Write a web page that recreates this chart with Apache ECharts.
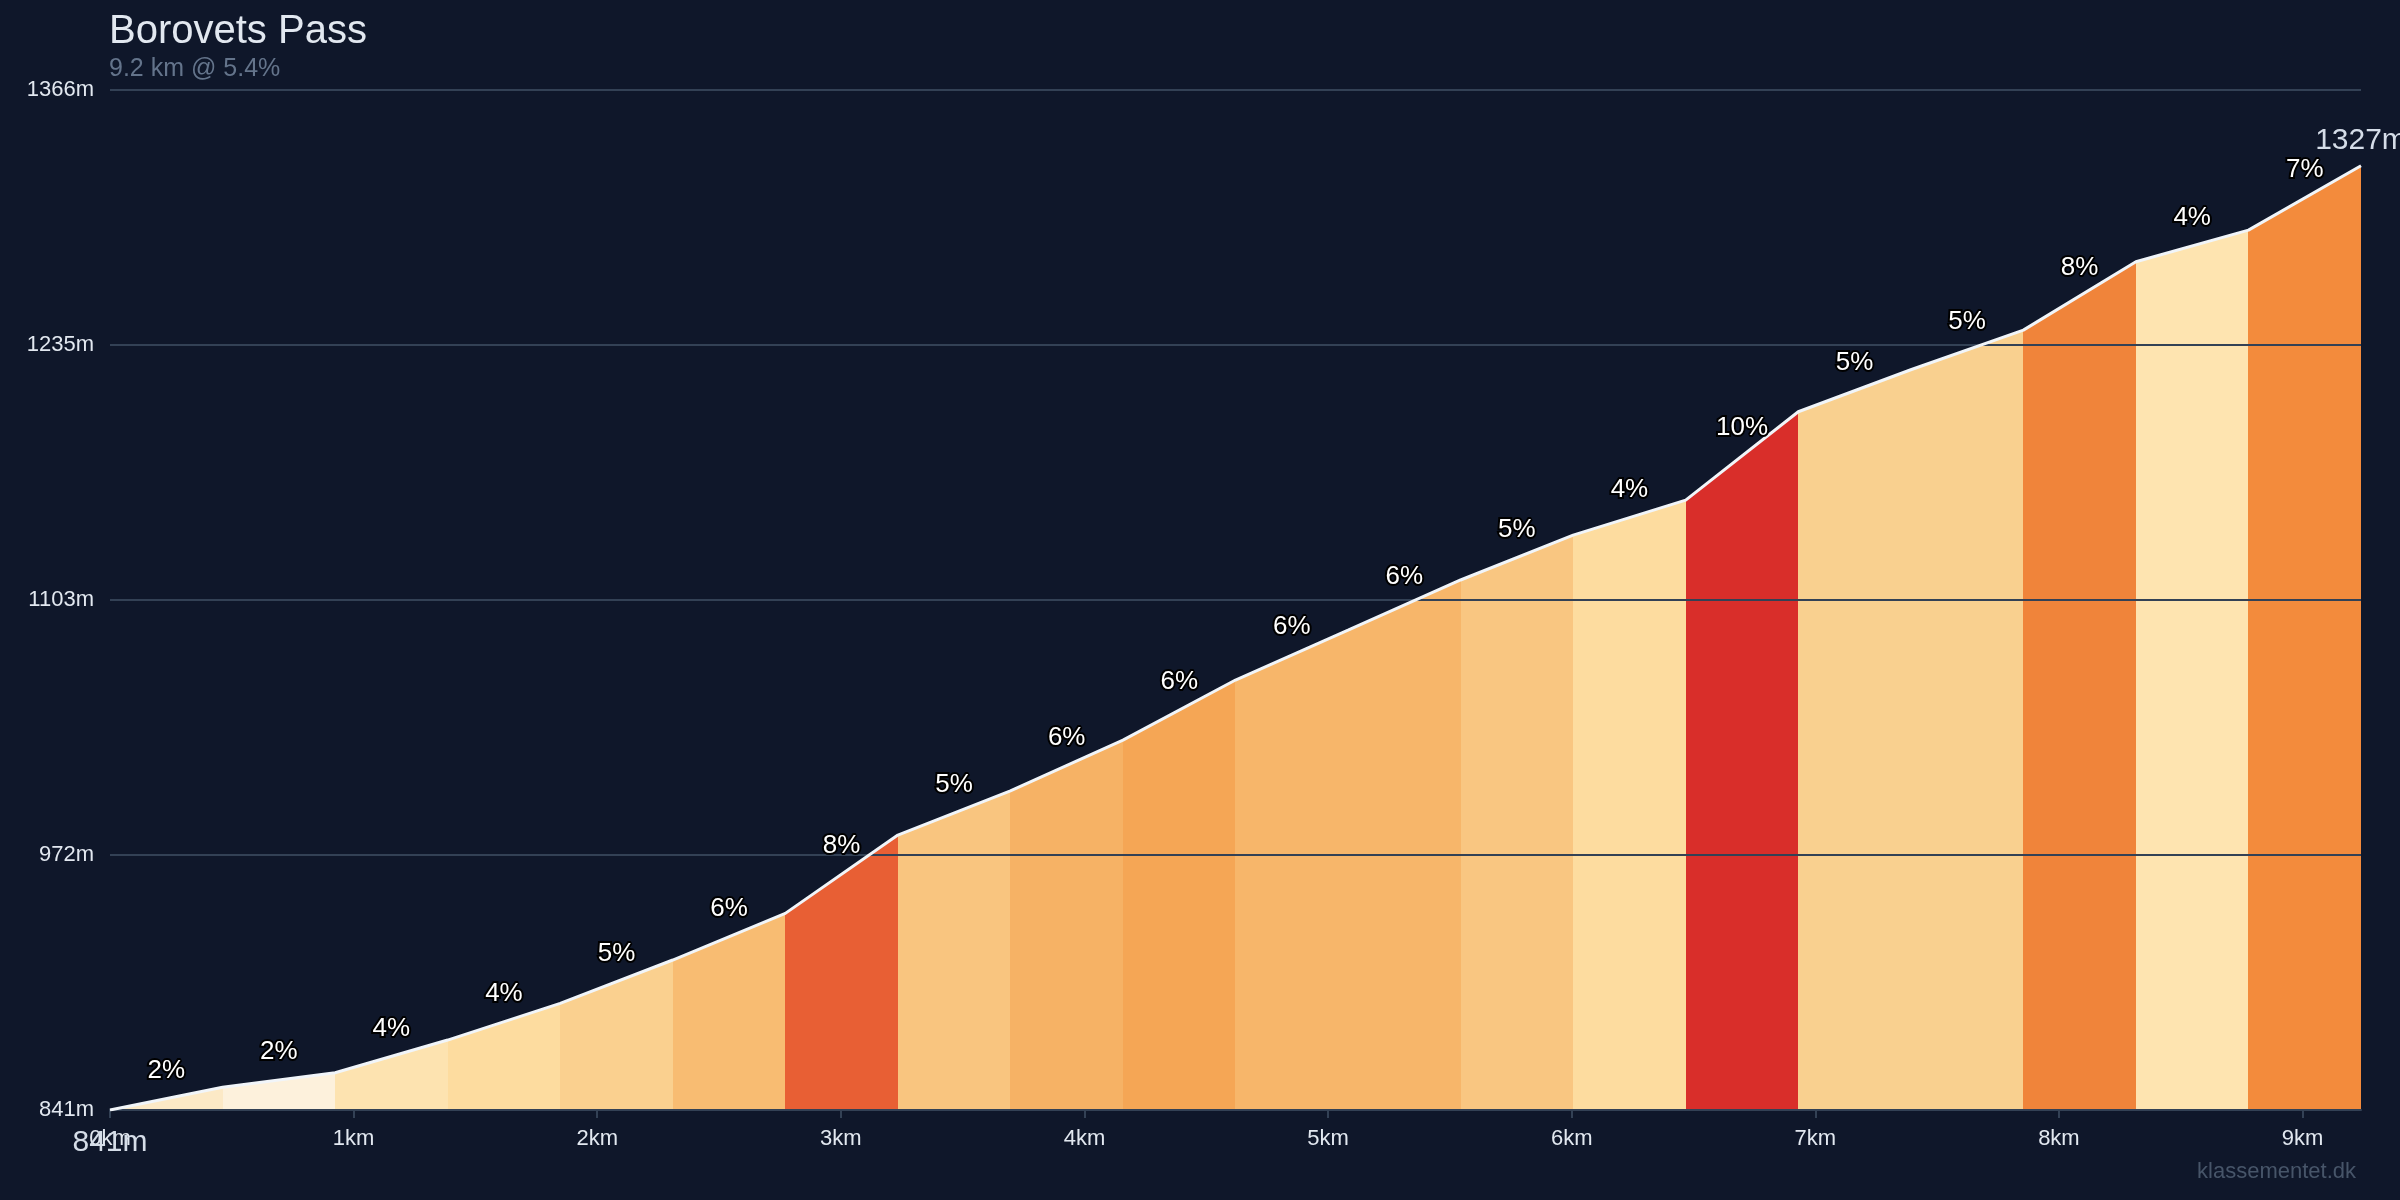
<!DOCTYPE html>
<html>
<head>
<meta charset="utf-8">
<title>Borovets Pass</title>
<script src="https://cdn.jsdelivr.net/npm/echarts@6/dist/echarts.min.js"></script>
<style>
  html, body { margin: 0; padding: 0; background: #0f172a; }
  #chart { width: 2400px; height: 1200px; }
</style>
</head>
<body>
<div id="chart"></div>
<script>
// climb info
const climbName = 'Borovets Pass';
const climbSummary = '9.2 km @ 5.4%';
const siteName = 'klassementet.dk';

// profile points (km, m)
const distances = [0, 0.462, 0.924, 1.386, 1.848, 2.31, 2.772, 3.234, 3.696, 4.158, 4.62,
  5.082, 5.544, 6.006, 6.468, 6.93, 7.392, 7.854, 8.316, 8.778, 9.24];
const elevations = [841, 852.7, 860.2, 877, 895.9, 918.2, 942.2, 982.5, 1005.3, 1031.4, 1062.3,
  1088, 1113.8, 1136.9, 1154.9, 1200.4, 1222, 1242.4, 1277.6, 1293.9, 1327];

// gradient label per segment
const gradeLabels = ['2%', '2%', '4%', '4%', '5%', '6%', '8%', '5%', '6%', '6%',
  '6%', '6%', '5%', '4%', '10%', '5%', '5%', '8%', '4%', '7%'];

// fill colour per segment
const segColors = ['#fce9c6', '#fdf1dc', '#fde3b0', '#fddc9f', '#fad08f', '#f8bc72', '#e85f34',
  '#f9c57f', '#f6b265', '#f5a655', '#f7b66a', '#f7b66a', '#f9c681', '#fddc9f', '#d92e2a',
  '#f9d08f', '#f9d08f', '#f0843a', '#fee4b0', '#f38b3c'];

const xTicks = [0, 1, 2, 3, 4, 5, 6, 7, 8, 9];
const yTickLabels = ['841m', '972m', '1103m', '1235m', '1366m'];

const FONT = 'Liberation Sans, Arial, Helvetica, sans-serif';

const chart = echarts.init(document.getElementById('chart'), null, { renderer: 'canvas' });

const last = distances.length - 1;
const profile = distances.map((d, i) => [d, elevations[i]]);

// colour pieces along the distance axis, one per segment
const pieces = segColors.map((c, i) => (i === segColors.length - 1
  ? { gte: distances[i], lte: distances[i + 1], color: c }
  : { gte: distances[i], lt: distances[i + 1], color: c }));

// gradient labels at segment middle
const labelData = gradeLabels.map((g, i) => ({
  value: [(distances[i] + distances[i + 1]) / 2, (elevations[i] + elevations[i + 1]) / 2],
  name: g
}));
// start / end elevation labels
labelData.push({
  value: [distances[0], elevations[0]],
  name: Math.round(elevations[0]) + 'm',
  label: { fontSize: 30, color: '#d5dde8', textBorderWidth: 0, offset: [0, 33] }
});
labelData.push({
  value: [distances[last], elevations[last]],
  name: Math.round(elevations[last]) + 'm',
  label: { fontSize: 30, color: '#d5dde8', textBorderWidth: 0, offset: [0, -25] }
});

chart.setOption({
  backgroundColor: '#0f172a',
  animation: false,
  title: {
    text: climbName,
    subtext: climbSummary,
    left: 104,
    top: 7,
    itemGap: 5,
    textStyle: { color: '#e2e8f0', fontSize: 40, fontWeight: 'normal', fontFamily: FONT },
    subtextStyle: { color: '#64748b', fontSize: 25, fontFamily: FONT }
  },
  graphic: [{
    type: 'text',
    right: 44,
    top: 1161,
    style: { text: siteName, fill: '#475569', font: '22px ' + FONT }
  }],
  visualMap: {
    show: false,
    type: 'piecewise',
    dimension: 0,
    seriesIndex: 0,
    pieces: pieces
  },
  grid: { left: 110, right: 39, top: 90, bottom: 90 },
  xAxis: {
    type: 'value',
    min: 0,
    max: distances[last],
    axisLine: { show: true, lineStyle: { color: '#334155', width: 2 } },
    axisTick: { show: true, customValues: xTicks, length: 8, lineStyle: { color: '#334155', width: 2 } },
    axisLabel: {
      customValues: xTicks,
      formatter: v => v + 'km',
      color: '#e2e8f0',
      fontSize: 22,
      fontFamily: FONT,
      margin: 18
    },
    splitLine: { show: false }
  },
  yAxis: {
    type: 'value',
    min: 841,
    max: 1366,
    interval: 131.25,
    z: 3,
    axisLine: { show: false },
    axisTick: { show: false },
    axisLabel: {
      formatter: (v, idx) => yTickLabels[idx] || '',
      color: '#e2e8f0',
      fontSize: 22,
      fontFamily: FONT,
      margin: 16
    },
    splitLine: { show: true, lineStyle: { color: '#334155', width: 2 } }
  },
  series: [{
    // coloured area by segment
    type: 'line',
    silent: true,
    showSymbol: false,
    z: 2,
    data: profile,
    lineStyle: { width: 0 },
    areaStyle: { opacity: 1, origin: 'start' }
  }, {
    // white profile line
    type: 'line',
    silent: true,
    showSymbol: false,
    z: 5,
    data: profile,
    lineStyle: { color: '#f1f5f9', width: 3 }
  }, {
    type: 'scatter',
    silent: true,
    z: 6,
    symbolSize: 0,
    itemStyle: { opacity: 1 },
    data: labelData,
    label: {
      show: true,
      position: 'inside',
      offset: [0, -28],
      formatter: p => p.name,
      fontFamily: FONT,
      fontSize: 26,
      color: '#ffffff',
      textBorderColor: '#000000',
      textBorderWidth: 4
    }
  }]
});
</script>
</body>
</html>
